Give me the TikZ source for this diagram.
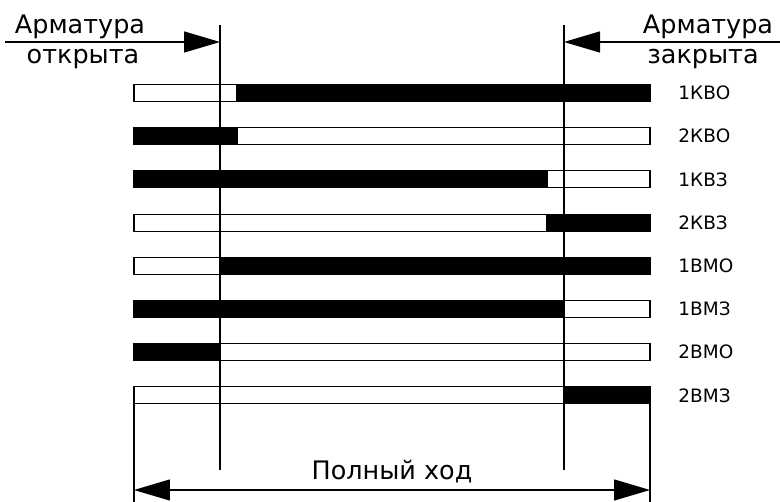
\documentclass[tikz,border=0pt]{standalone}
\usepackage{fontspec}
\setmainfont{DejaVu Sans}
\usetikzlibrary{arrows.meta}
\def\barh{8.5}
\def\barl{134}
\def\barr{650}

\begin{document}
\begin{tikzpicture}[x=0.02cm,y=-0.02cm, line width=0.5pt, >={Triangle[length=0.72cm,width=0.42cm]}]
            \tikzstyle{bar}=[draw=black, line width=0.6pt]
            \tikzstyle{dim}=[line width=0.8pt]
            \tikzstyle{annot}=[font=\fontsize{14.5}{14.5}\selectfont, inner sep=0pt]
            \tikzstyle{tag}=[font=\fontsize{10.5}{10.5}\selectfont, inner sep=0pt, anchor=west]

            \useasboundingbox (0,0) rectangle (780,502);

            % Positions of the open and closed ends
            \coordinate (open-top) at (220,25);
            \coordinate (open-bot) at (220,470);
            \coordinate (shut-top) at (564,25);
            \coordinate (shut-bot) at (564,470);

            % Draw the switch bars
            \foreach \name / \i / \split / \lc / \rc in {1КВО/1/237/white/black, 2КВО/2/237/black/white,
                1КВЗ/3/547/black/white, 2КВЗ/4/547/white/black, 1ВМО/5/220/white/black,
                1ВМЗ/6/564/black/white, 2ВМО/7/220/black/white, 2ВМЗ/8/564/white/black}
            {
                \pgfmathsetmacro\y{93+43.2*(\i-1)}
                \path[bar, fill=\lc] (\barl,\y-\barh) rectangle (\split,\y+\barh);
                \path[bar, fill=\rc] (\split,\y-\barh) rectangle (\barr,\y+\barh);
                \node[tag] (lab-\i) at (678,\y) {\name};
            }

            \draw[dim] (open-top) -- (open-bot);
            \draw[dim] (shut-top) -- (shut-bot);

            % Annotate the ends
            \coordinate (open-from) at (5,42);
            \coordinate (open-to) at (220,42);
            \coordinate (shut-from) at (780,42);
            \coordinate (shut-to) at (564,42);
            \draw[dim, ->] (open-from) -- (open-to);
            \draw[dim, ->] (shut-from) -- (shut-to);
            \node[annot] (open-a) at (80,27) {Арматура};
            \node[annot] (open-b) at (83,59) {открыта};
            \node[annot] (shut-a) at (708,27) {Арматура};
            \node[annot] (shut-b) at (703,59) {закрыта};

            % Full stroke
            \coordinate (full-top-l) at (\barl,403.5);
            \coordinate (full-top-r) at (\barr,403.5);
            \coordinate (full-l) at (\barl,502);
            \coordinate (full-r) at (\barr,502);
            \coordinate (stroke-l) at (\barl,490);
            \coordinate (stroke-r) at (\barr,490);
            \draw[bar] (full-top-l) -- (full-l);
            \draw[bar] (full-top-r) -- (full-r);
            \draw[dim, <->] (stroke-l) -- (stroke-r);
            \node[annot] (full) at (392,472) {Полный ход};
        \end{tikzpicture}
\end{document}
